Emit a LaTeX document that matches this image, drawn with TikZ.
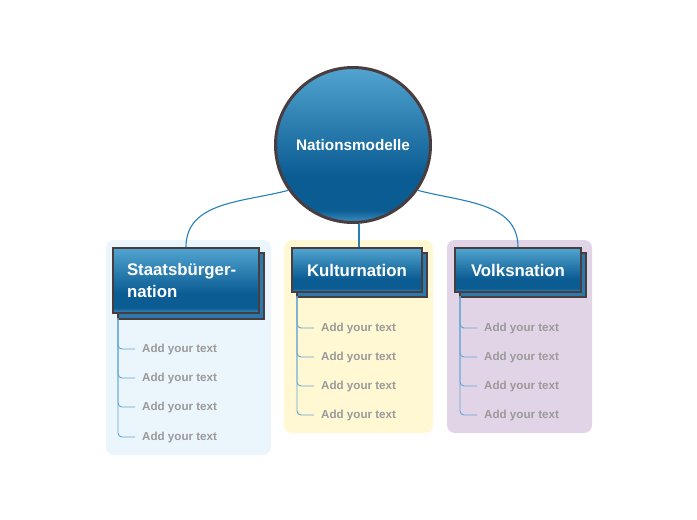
\documentclass[tikz,border=0pt]{standalone}
\usepackage{fontspec}
\setmainfont{Liberation Sans}
\usepackage{xcolor}
\usepackage{tikz}
\usetikzlibrary{positioning}

\definecolor{rim}{HTML}{4A3D3F}
\definecolor{shtop}{HTML}{52A4D0}
\definecolor{shdark}{HTML}{0A5C93}
\definecolor{shlow}{HTML}{3F90C2}
\definecolor{backblue}{HTML}{2C7AAD}
\definecolor{linkblue}{HTML}{2580B8}
\definecolor{branchblue}{HTML}{62A6D4}
\definecolor{itemgrey}{HTML}{9A9A9A}
\definecolor{leftbg}{HTML}{EBF5FC}
\definecolor{midbg}{HTML}{FFF8D3}
\definecolor{rightbg}{HTML}{E1D4E7}

\pgfdeclareverticalshading{nodeshade}{100bp}{color(0bp)=(shlow); color(25bp)=(shlow); color(29bp)=(shdark); color(40bp)=(shdark); color(75bp)=(shtop); color(100bp)=(shtop)}

\tikzset{
    hubnode/.style={circle, draw=rim, line width=3pt, shading=nodeshade, minimum size=155pt,
        text=white, font=\bfseries\fontsize{15.3}{18}\selectfont},
    titlebox/.style={rectangle, draw=rim, line width=2pt, shading=nodeshade, anchor=north west,
        text=white, font=\bfseries\fontsize{16.8}{22}\selectfont},
    backbox/.style={rectangle, draw=rim, line width=2pt, fill=backblue, anchor=north west},
    item/.style={anchor=west, inner xsep=7pt, inner ysep=0pt, text=itemgrey,
        font=\bfseries\fontsize{11.6}{13}\selectfont},
    panel/.style={rounded corners=8pt, draw=none},
    link/.style={draw=linkblue, line width=1.1pt},
    branch/.style={draw=branchblue, line width=0.9pt, rounded corners=4pt}
}

\begin{document}
\begin{tikzpicture}[x=1pt, y=-1pt]
            \useasboundingbox (0, 0) rectangle (697, 520);
            \fill [panel, fill=leftbg] (106, 240) rectangle (271, 455);
            \fill [panel, fill=midbg] (284, 240) rectangle (433, 433);
            \fill [panel, fill=rightbg] (447, 240) rectangle (592, 433);

            \node (hub) at (353, 145) [hubnode] {Nationsmodelle};

            \node (sback) at (117, 252) [backbox, minimum width=146pt, minimum height=66pt] {};
            \node (sbox) at (112, 247) [titlebox, minimum width=146pt, minimum height=65pt,
                text width=118pt, inner xsep=14pt, align=left] {Staatsbürger-\\nation};
            \node (kback) at (296, 252) [backbox, minimum width=130pt, minimum height=44pt] {};
            \node (kbox) at (291, 247) [titlebox, minimum width=130pt, minimum height=44pt] {Kulturnation};
            \node (vback) at (459, 252) [backbox, minimum width=126pt, minimum height=44pt] {};
            \node (vbox) at (454, 247) [titlebox, minimum width=126pt, minimum height=44pt] {Volksnation};

            \draw [link] (hub.215) to [out=195, in=90] (sbox.north);
            \draw [link] ([xshift=2pt]kbox.north) -- ([xshift=2pt]kbox.north |- hub.south);
            \draw [link] (hub.325) to [out=-15, in=90] (vbox.north);

            \coordinate (sstem) at (118, 318);
            \coordinate (kstem) at (297, 296);
            \coordinate (vstem) at (460, 296);

            \node (s1) at (135, 349) [item] {Add your text};
            \node (s2) at (135, 378) [item] {Add your text};
            \node (s3) at (135, 407) [item] {Add your text};
            \node (s4) at (135, 437) [item] {Add your text};
            \node (k1) at (314, 328) [item] {Add your text};
            \node (k2) at (314, 357) [item] {Add your text};
            \node (k3) at (314, 386) [item] {Add your text};
            \node (k4) at (314, 415) [item] {Add your text};
            \node (v1) at (477, 328) [item] {Add your text};
            \node (v2) at (477, 357) [item] {Add your text};
            \node (v3) at (477, 386) [item] {Add your text};
            \node (v4) at (477, 415) [item] {Add your text};

            \foreach \i in {1,...,4} {
                \draw [branch] (sstem) |- (s\i.west);
                \draw [branch] (kstem) |- (k\i.west);
                \draw [branch] (vstem) |- (v\i.west);
            }
        \end{tikzpicture}
\end{document}
